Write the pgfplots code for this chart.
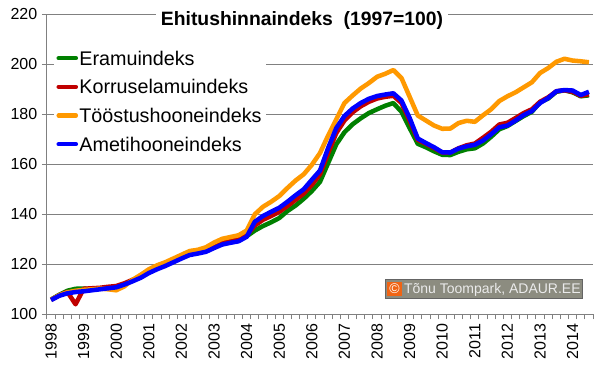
\documentclass[border=0pt]{standalone}
\usepackage{pgfplots}
\usepackage{pgfplotstable}
\pgfplotsset{compat=1.18}
\usepackage{fontspec}
\setmainfont{Liberation Sans}
\usetikzlibrary{calc}

\definecolor{cgreen}{RGB}{0,128,0}
\definecolor{cred}{RGB}{192,0,0}
\definecolor{corange}{RGB}{255,153,0}
\definecolor{cblue}{RGB}{0,0,255}
\definecolor{cgrid}{RGB}{128,128,128}
\definecolor{wmbg}{RGB}{140,140,128}
\definecolor{wmborder}{RGB}{100,100,100}
\definecolor{wmtext}{RGB}{235,235,235}
\definecolor{wmorange}{RGB}{240,100,20}

\pgfplotstableread{
t era korr toost ameti
1998.00 105.9 105.8 105.8 105.7
1998.25 107.8 107.6 107.6 107.4
1998.50 109.4 109.0 108.8 108.4
1998.75 110.2 104.0 109.4 108.9
1999.00 110.3 110.2 109.8 109.2
1999.25 110.0 110.4 110.0 109.6
1999.50 110.3 110.6 110.3 110.0
1999.75 110.6 111.0 110.0 110.4
2000.00 111.0 111.3 109.6 110.8
2000.25 112.1 112.4 111.2 111.9
2000.50 113.5 113.8 113.8 113.2
2000.75 114.9 115.0 115.8 114.6
2001.00 116.8 116.8 118.0 116.5
2001.25 118.3 118.4 119.6 118.0
2001.50 119.6 119.8 120.8 119.3
2001.75 121.1 121.3 122.3 120.8
2002.00 122.6 122.8 123.8 122.3
2002.25 124.0 124.3 125.3 123.7
2002.50 124.6 125.0 125.8 124.3
2002.75 125.3 125.8 126.8 125.0
2003.00 126.8 127.3 128.7 126.5
2003.25 128.2 128.8 130.2 127.9
2003.50 128.9 129.5 130.9 128.6
2003.75 129.5 130.1 131.6 129.2
2004.00 131.2 131.6 133.5 131.0
2004.25 133.5 135.5 140.0 137.0
2004.50 135.3 137.8 143.0 139.3
2004.75 136.8 139.3 145.0 141.0
2005.00 138.5 141.0 147.3 142.6
2005.25 141.3 143.3 150.5 145.0
2005.50 143.5 145.8 153.5 147.6
2005.75 146.2 148.3 156.0 150.0
2006.00 149.3 151.8 159.8 153.8
2006.25 153.0 156.0 164.5 157.5
2006.50 160.5 164.5 171.5 166.5
2006.75 168.0 172.5 178.0 174.5
2007.00 172.8 177.5 184.5 179.3
2007.25 176.0 180.8 187.5 182.3
2007.50 178.4 183.2 190.3 184.5
2007.75 180.5 185.0 192.5 186.2
2008.00 182.0 186.3 195.0 187.3
2008.25 183.4 187.0 196.2 187.9
2008.50 184.5 187.4 197.7 188.4
2008.75 181.0 184.5 194.5 185.5
2009.00 174.5 177.5 187.0 178.5
2009.25 168.2 169.8 179.5 170.3
2009.50 166.8 168.2 177.5 168.5
2009.75 165.2 166.5 175.5 166.8
2010.00 163.8 164.7 174.2 164.8
2010.25 163.7 164.7 174.3 164.7
2010.50 165.0 166.4 176.5 166.3
2010.75 166.0 167.6 177.4 167.2
2011.00 166.4 168.3 177.0 167.8
2011.25 168.3 170.6 179.6 169.5
2011.50 171.0 173.0 182.0 172.0
2011.75 174.0 175.9 185.3 174.8
2012.00 175.3 176.6 187.2 175.5
2012.25 177.3 178.5 188.8 177.5
2012.50 179.3 180.5 190.8 179.7
2012.75 181.0 182.0 192.8 181.3
2013.00 184.8 185.0 196.5 184.5
2013.25 186.3 186.8 198.5 186.5
2013.50 189.0 189.2 201.0 189.2
2013.75 189.6 189.6 202.2 189.7
2014.00 188.8 189.0 201.5 189.5
2014.25 187.2 187.4 201.2 187.7
2014.50 187.6 188.0 200.8 189.0
}\data

\begin{document}
\begin{tikzpicture}
\begin{axis}[
  name=ax,
  scale only axis, width=409.5pt, height=225pt,
  clip=false,
  xmin=1997.875, xmax=2014.625, ymin=100, ymax=220,
  axis x line*=bottom, axis y line*=left,
  axis line style={cgrid, line width=0.75pt},
  xtick={1998,1999,2000,2001,2002,2003,2004,2005,2006,2007,2008,2009,2010,2011,2012,2013,2014},
  xticklabels={1998,1999,2000,2001,2002,2003,2004,2005,2006,2007,2008,2009,2010,2011,2012,2013,2014},
  minor xtick={1997.875,1998.125,...,2014.7},
  ytick={100,120,...,220},
  ymajorgrids, grid style={cgrid, line width=0.75pt},
  major x tick style={draw=none},
  tick align=outside, tick pos=left,
  major tick length=3.75pt, minor tick length=3.75pt,
  every tick/.style={cgrid, line width=0.75pt},
  xticklabel style={rotate=90, anchor=east, font=\fontsize{12}{14}\selectfont, xshift=0pt},
  yticklabel style={font=\fontsize{12}{14}\selectfont},
  /pgf/number format/assume math mode=true,
  legend style={at={(0.012,0.90)}, anchor=north west, fill=white, draw=none,
    font=\fontsize{14.8}{16}\selectfont, row sep=9pt, inner xsep=2pt, inner ysep=4pt,
    nodes={inner sep=1pt, text height=10.5pt, text depth=0pt}},
  legend cell align=left,
  legend image code/.code={\draw[#1, line width=3.2pt, line cap=round] (0pt,0pt) -- (13pt,0pt);},
  every axis plot/.append style={line width=3.4pt, line join=round},
]
\addplot[cgreen] table[x=t,y=era]{\data};
\addlegendentry{Eramuindeks}
\addplot[cred] table[x=t,y=korr]{\data};
\addlegendentry{Korruselamuindeks}
\addplot[corange] table[x=t,y=toost]{\data};
\addlegendentry{Tööstushooneindeks}
\addplot[cblue] table[x=t,y=ameti]{\data};
\addlegendentry{Ametihooneindeks}

\node[fill=white, inner xsep=4pt, inner ysep=2pt, font=\bfseries\fontsize{14.5}{16}\selectfont] at (rel axis cs:0.467,0.978) {Ehitushinnaindeks\ \ (1997=100)};

\node[fill=wmbg, draw=wmborder, line width=0.75pt, inner xsep=1.5pt, inner ysep=1.5pt, text=wmtext, font=\fontsize{10.5}{12}\selectfont, anchor=east] at (rel axis cs:0.982,0.084) {{\setlength{\fboxsep}{1.5pt}\colorbox{wmorange}{\textcolor{white}{©}}}\,Tõnu Toompark, ADAUR.EE};
\end{axis}
\pgfresetboundingbox
\path ($(ax.south west)+(-35.25pt,-38.775pt)$) rectangle ($(ax.north east)+(5.25pt,10.725pt)$);
\end{tikzpicture}
\end{document}
